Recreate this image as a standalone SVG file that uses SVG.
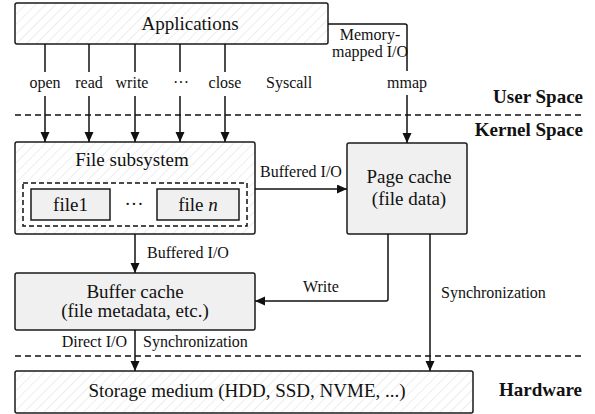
<svg xmlns="http://www.w3.org/2000/svg" width="595" height="414" viewBox="0 0 595 414">
<style>
text { font-family: "Liberation Serif", "Times New Roman", serif; fill: #111; }
.box { font-size: 19px; text-anchor: middle; }
.lbl { font-size: 16px; }
.mid { text-anchor: middle; }
.end { text-anchor: end; }
.reg { font-size: 19px; font-weight: bold; text-anchor: end; }
.hatch { fill: url(#hatch); stroke: #1a1a1a; stroke-width: 1.5; }
.gray { fill: #f0f0f0; stroke: #1a1a1a; stroke-width: 1.5; }
.ln { fill: none; stroke: #111; stroke-width: 1.5; }
.arr { fill: none; stroke: #111; stroke-width: 1.5; marker-end: url(#ah); }
.sep { fill: none; stroke: #111; stroke-width: 1.5; stroke-dasharray: 6 4; }
</style>
<defs>
<pattern id="hatch" patternUnits="userSpaceOnUse" width="7" height="7" patternTransform="rotate(45)">
<rect width="7" height="7" fill="#fff"/>
<line x1="0" y1="0" x2="0" y2="7" stroke="#dcdcdc" stroke-width="1"/>
</pattern>
<marker id="ah" markerUnits="userSpaceOnUse" markerWidth="11" markerHeight="10" refX="10" refY="4.5" orient="auto">
<path d="M0,0 L10,4.5 L0,9 z" fill="#111"/>
</marker>
</defs>

<g id="separators">
<line class="sep" x1="15" y1="115" x2="583" y2="115"/>
<line class="sep" x1="15" y1="356" x2="583" y2="356"/>
</g>

<g id="region-labels">
<text class="reg" x="583" y="103">User Space</text>
<text class="reg" x="583" y="136">Kernel Space</text>
<text class="reg" x="582" y="396">Hardware</text>
</g>

<g id="applications">
<rect class="hatch" x="15" y="3" width="313" height="41" rx="2"/>
<text class="box" x="190" y="30">Applications</text>
</g>

<g id="file-subsystem">
<rect class="hatch" x="15" y="142" width="240" height="92" rx="2"/>
<text class="box" x="132" y="166">File subsystem</text>
<rect x="23" y="183" width="224" height="43" fill="#fff" stroke="#111" stroke-width="1.5" stroke-dasharray="5 3"/>
<g id="file1">
<rect class="gray" x="31" y="189" width="79" height="31"/>
<text class="box" x="70.5" y="211">file1</text>
</g>
<text class="box" x="134" y="210">···</text>
<g id="filen">
<rect class="gray" x="157" y="189" width="82" height="31"/>
<text class="box" x="198" y="211">file <tspan font-style="italic">n</tspan></text>
</g>
</g>

<g id="page-cache">
<rect class="gray" x="347" y="143" width="120" height="91" rx="2"/>
<text class="box" x="409" y="183">Page cache</text>
<text class="box" x="409" y="205">(file data)</text>
</g>

<g id="buffer-cache">
<rect class="gray" x="15" y="273" width="240" height="57" rx="2"/>
<text class="box" x="135" y="298">Buffer cache</text>
<text class="box" x="135" y="317">(file metadata, etc.)</text>
</g>

<g id="storage">
<rect class="hatch" x="15" y="371" width="458" height="42" rx="2"/>
<text class="box" x="247" y="397">Storage medium (HDD, SSD, NVME, ...)</text>
</g>

<g id="connectors">
<line class="ln" x1="45" y1="44" x2="45" y2="72"/>
<line class="arr" x1="45" y1="96" x2="45" y2="142"/>
<line class="ln" x1="89" y1="44" x2="89" y2="72"/>
<line class="arr" x1="89" y1="96" x2="89" y2="142"/>
<line class="ln" x1="135" y1="44" x2="135" y2="72"/>
<line class="arr" x1="135" y1="96" x2="135" y2="142"/>
<line class="ln" x1="180" y1="44" x2="180" y2="72"/>
<line class="arr" x1="180" y1="96" x2="180" y2="142"/>
<line class="ln" x1="225" y1="44" x2="225" y2="72"/>
<line class="arr" x1="225" y1="96" x2="225" y2="142"/>
<path class="ln" d="M328,24 H405 Q407,24 407,26 V71"/>
<line class="arr" x1="407" y1="95" x2="407" y2="143"/>
<line class="arr" x1="255" y1="189" x2="347" y2="189"/>
<line class="arr" x1="135" y1="234" x2="135" y2="273"/>
<path class="arr" d="M388,234 V299 Q388,301 386,301 H255"/>
<line class="arr" x1="430" y1="234" x2="430" y2="371"/>
<line class="arr" x1="135" y1="330" x2="135" y2="371"/>
</g>

<g id="connector-labels">
<text class="lbl mid" x="45" y="88">open</text>
<text class="lbl mid" x="89" y="88">read</text>
<text class="lbl mid" x="132" y="88">write</text>
<text class="lbl mid" x="181" y="88">···</text>
<text class="lbl mid" x="225" y="88">close</text>
<text class="lbl" x="266" y="88">Syscall</text>
<text class="lbl mid" x="370" y="40">Memory-</text>
<text class="lbl mid" x="370" y="57">mapped I/O</text>
<text class="lbl mid" x="407" y="88">mmap</text>
<text class="lbl" x="260" y="177">Buffered I/O</text>
<text class="lbl" x="147" y="258">Buffered I/O</text>
<text class="lbl" x="303" y="292">Write</text>
<text class="lbl" x="441" y="298">Synchronization</text>
<text class="lbl end" x="127" y="347">Direct I/O</text>
<text class="lbl" x="143" y="347">Synchronization</text>
</g>
</svg>
